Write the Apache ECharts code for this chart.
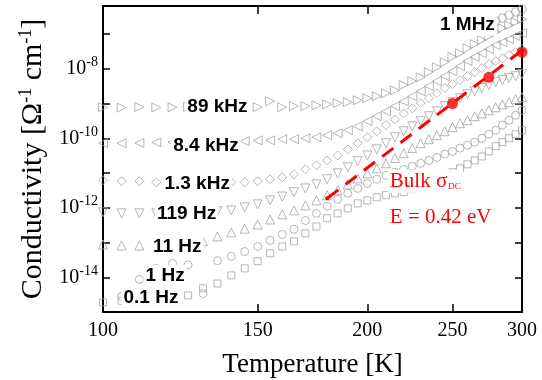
<!DOCTYPE html>
<html>
<head>
<meta charset="utf-8">
<script src="https://cdn.jsdelivr.net/npm/echarts@6/dist/echarts.min.js"></script>
<style>
  html, body { margin: 0; background: #fff; }
  #chart { width: 542px; height: 380px; }
</style>
</head>
<body>
<div id="chart"></div>
<script>
// temperature grid of the measurements [K]
const temps = [100, 105, 110, 115, 120, 125, 130, 135, 140, 145, 150, 155, 160, 165, 170, 175, 180, 185, 190, 195,
  200, 205, 210, 215, 220, 225, 230, 235, 240, 245, 250, 255, 260, 265, 270, 275, 280, 285, 290, 295, 300];

// conductivity [S/cm] per frequency
const s01Hz = [1.9e-15, 2.1e-15, 2.3e-15, 2.6e-15, 2.8e-15, 3.0e-15, 4.8e-15, 6.6e-15, 1.13e-14, 1.8e-14,
  2.9e-14, 4.9e-14, 7.7e-14, 1.08e-13, 1.83e-13, 2.9e-13, 5.0e-13, 6.9e-13, 9.6e-13, 1.34e-12,
  1.63e-12, 2.0e-12, 2.3e-12, 2.6e-12, 2.8e-12, 3.4e-12, 4.4e-12, 5.8e-12, 7.5e-12, 9.2e-12,
  1.05e-11, 1.36e-11, 1.78e-11, 2.3e-11, 3.0e-11, 4.2e-11, 5.9e-11, 7.7e-11, 1.0e-10, 1.30e-10, 1.70e-10];
const s1Hz = [null, 2.8e-15, 8.7e-15, 1.8e-14, 2.5e-14, 2.3e-14, 3.4e-15, 3.0e-14, 4.0e-14, 5.5e-14,
  7.7e-14, 1.15e-13, 1.71e-13, 2.4e-13, 4.3e-13, 6.9e-13, 1.10e-12, 1.75e-12, 2.6e-12, 3.6e-12,
  5.0e-12, 6.6e-12, 8.6e-12, 1.05e-11, 1.28e-11, 1.56e-11, 1.9e-11, 2.3e-11, 2.8e-11, 3.5e-11,
  4.2e-11, 5.2e-11, 6.3e-11, 7.7e-11, 1.0e-10, 1.30e-10, 1.70e-10, 2.4e-10, 3.3e-10, 4.6e-10, 6.4e-10];
const s11Hz = [8.8e-14, 8.2e-14, 8.2e-14, 8.2e-14, 8.2e-14, 8.8e-14, 1.08e-13, 1.50e-13, 1.95e-13, 2.5e-13,
  3.3e-13, 4.6e-13, 6.5e-13, 8.4e-13, 1.17e-12, 1.63e-12, 2.3e-12, 3.2e-12, 4.7e-12, 7.0e-12,
  9.8e-12, 1.36e-11, 1.9e-11, 2.7e-11, 3.7e-11, 5.2e-11, 7.2e-11, 9.4e-11, 1.22e-10, 1.59e-10,
  2.1e-10, 2.7e-10, 3.3e-10, 4.3e-10, 5.2e-10, 6.4e-10, 7.8e-10, 9.5e-10, 1.09e-9, 1.33e-9, 1.52e-9];
const s119Hz = [7.4e-13, 6.9e-13, 6.9e-13, 6.9e-13, 6.9e-13, 7.4e-13, 7.4e-13, 7.9e-13, 8.4e-13, 1.03e-12,
  1.25e-12, 1.63e-12, 2.1e-12, 2.8e-12, 3.6e-12, 4.7e-12, 6.6e-12, 9.8e-12, 1.46e-11, 2.2e-11,
  3.2e-11, 4.8e-11, 7.2e-11, 1.07e-10, 1.59e-10, 2.2e-10, 3.1e-10, 4.3e-10, 6.0e-10, 8.4e-10,
  1.09e-9, 1.42e-9, 1.85e-9, 2.26e-9, 2.8e-9, 3.4e-9, 4.1e-9, 4.7e-9, 5.4e-9, 6.1e-9, 7.0e-9];
const s1k3Hz = [6.2e-12, 5.8e-12, 5.8e-12, 5.4e-12, 5.4e-12, 5.4e-12, 5.4e-12, 5.4e-12, 5.4e-12, 5.4e-12,
  5.8e-12, 6.6e-12, 7.5e-12, 9.2e-12, 1.28e-11, 1.67e-11, 2.3e-11, 3.2e-11, 4.8e-11, 7.2e-11,
  1.07e-10, 1.59e-10, 2.4e-10, 3.5e-10, 5.2e-10, 7.3e-10, 1.02e-9, 1.42e-9, 1.98e-9, 2.8e-9,
  3.6e-9, 4.7e-9, 6.1e-9, 8.0e-9, 1.04e-8, 1.36e-8, 1.66e-8, 2.0e-8, 2.5e-8, 3.0e-8, 3.7e-8];
const s8k4Hz = [7.2e-11, 7.2e-11, 7.3e-11, 7.6e-11, 7.7e-11, 7.7e-11, 7.8e-11, 7.7e-11, 7.8e-11, 8.2e-11,
  8.7e-11, 8.7e-11, 9.4e-11, 9.4e-11, 1.0e-10, 1.07e-10, 1.22e-10, 1.39e-10, 1.70e-10, 2.2e-10,
  3.1e-10, 4.3e-10, 6.0e-10, 8.4e-10, 1.16e-9, 1.62e-9, 2.26e-9, 3.2e-9, 4.4e-9, 6.1e-9,
  8.5e-9, 1.19e-8, 1.66e-8, 2.2e-8, 2.8e-8, 3.7e-8, 4.8e-8, 5.8e-8, 7.1e-8, 8.7e-8, 1.06e-7];
const s89kHz = [7.8e-10, 7.6e-10, 7.9e-10, 7.7e-10, 7.8e-10, 8.0e-10, 7.8e-10, 7.7e-10, 7.9e-10, 8.0e-10,
  7.9e-10, 1.16e-9, 7.8e-10, 8.4e-10, 8.4e-10, 8.9e-10, 9.5e-10, 1.02e-9, 1.09e-9, 1.24e-9,
  1.42e-9, 1.62e-9, 1.98e-9, 2.4e-9, 3.4e-9, 4.4e-9, 5.7e-9, 8.0e-9, 1.11e-8, 1.55e-8,
  2.2e-8, 2.8e-8, 3.9e-8, 5.1e-8, 6.7e-8, 8.7e-8, 1.14e-7, 1.48e-7, 1.80e-7, 2.2e-7, 2.7e-7];
// 1 MHz only shows at the hot end
const t1MHz = [270, 275, 280, 285, 290, 295, 300];
const s1MHz = [1.58e-7, 1.93e-7, 2.36e-7, 2.9e-7, 3.5e-7, 4.3e-7, 5.2e-7];

// bulk dc conductivity points and the Arrhenius fit (E = 0.42 eV)
const dcT = [250, 275, 300];
const dcS = [1.0e-9, 5.7e-9, 3.0e-8];
const fitT = [180, 300];
const fitS = [1.87e-12, 3.37e-8];

// frequency labels: text, anchor temperature, anchor conductivity
const labelNames = ['1 MHz', '89 kHz', '8.4 kHz', '1.3 kHz', '119 Hz', '11 Hz', '1 Hz', '0.1 Hz'];
const labelT = [260, 135, 131, 128, 124.5, 121.5, 117.7, 113.4];
const labelS = [1.8e-7, 7.8e-10, 5.9e-11, 5.0e-12, 6.5e-13, 7.7e-14, 1.1e-14, 2.6e-15];

const noteNames = ['Bulk σ{sub|DC}', 'E = 0.42 eV'];
const noteT = [211, 211];
const noteS = [5.8e-12, 5.3e-13];

// axis ticks
const xTicks = [150, 200, 250];
const xLabels = [100, 150, 200, 250, 300];
const yTicks = [1e-14, 1e-13, 1e-12, 1e-11, 1e-10, 1e-9, 1e-8, 1e-7];
const yLabels = [1e-14, 1e-12, 1e-10, 1e-8];

const serif = 'Liberation Serif';
const sans = 'Liberation Sans';
const gray = '#a4a4a4';
const red = '#ff0000';
const hexagon = 'path://M5,0L15,0L20,8.66L15,17.32L5,17.32L0,8.66Z';

const chart = echarts.init(document.getElementById('chart'));

function markers(name, xs, ys, symbol, size, rotate) {
  const data = [];
  xs.forEach((t, i) => { if (ys[i] != null) data.push([t, ys[i]]); });
  return {
    name, type: 'scatter', data, symbol, symbolSize: size, symbolRotate: rotate || 0,
    itemStyle: { color: 'rgba(255,255,255,0)', borderColor: gray, borderWidth: 1 },
    silent: true, z: 2
  };
}

const frame = { show: true, onZero: false, lineStyle: { color: '#000', width: 2 } };
const xBase = { type: 'log', logBase: 10, min: 100, max: 300, splitLine: { show: false } };
const yBase = { type: 'log', logBase: 10, min: 1e-15, max: 6.4e-7, splitLine: { show: false } };
const tickLine = { color: '#000', width: 1.5 };

const option = {
  animation: false,
  grid: { left: 103, right: 20, top: 6, bottom: 68, outerBoundsMode: 'none' },
  xAxis: [
    {
      ...xBase, position: 'bottom', axisLine: frame,
      axisTick: { inside: true, length: 8, lineStyle: tickLine, customValues: xTicks },
      axisLabel: { customValues: xLabels, fontFamily: serif, fontSize: 20, color: '#000', margin: 9 },
      name: 'Temperature [K]', nameLocation: 'middle', nameGap: 39,
      nameTextStyle: { fontFamily: serif, fontSize: 27, color: '#000' }
    },
    {
      ...xBase, position: 'top', axisLine: frame,
      axisTick: { inside: true, length: 8, lineStyle: tickLine, customValues: xTicks },
      axisLabel: { show: false }
    }
  ],
  yAxis: [
    {
      ...yBase, position: 'left', axisLine: frame,
      axisTick: { inside: true, length: 7, lineStyle: tickLine, customValues: yTicks },
      axisLabel: {
        customValues: yLabels, fontFamily: serif, fontSize: 20, color: '#000', margin: 5,
        formatter: v => '10{s|' + Math.round(Math.log10(v)) + '}',
        rich: { s: { fontFamily: serif, fontSize: 14, color: '#000', padding: [0, 0, 12, 0] } }
      },
      name: 'Conductivity [Ω{s|-1} cm{s|-1}]', nameLocation: 'middle', nameGap: 52, nameRotate: 90,
      nameTextStyle: {
        fontFamily: serif, fontSize: 30, color: '#000',
        rich: { s: { fontFamily: serif, fontSize: 18, color: '#000', padding: [0, 0, 15, 0] } }
      }
    },
    {
      ...yBase, position: 'right', axisLine: frame,
      axisTick: { inside: true, length: 7, lineStyle: tickLine, customValues: yTicks },
      axisLabel: { show: false }
    }
  ],
  series: [
    markers('0.1 Hz', temps, s01Hz, 'rect', 7),
    markers('1 Hz', temps, s1Hz, 'circle', 8),
    markers('11 Hz', temps, s11Hz, 'triangle', 9),
    markers('119 Hz', temps, s119Hz, 'triangle', 9, 180),
    markers('1.3 kHz', temps, s1k3Hz, 'diamond', 9),
    markers('8.4 kHz', temps, s8k4Hz, 'triangle', 9, 90),
    markers('89 kHz', temps, s89kHz, 'triangle', 9, -90),
    markers('1 MHz', t1MHz, s1MHz, hexagon, [9, 8]),
    {
      name: 'fit', type: 'line', data: fitT.map((t, i) => [t, fitS[i]]),
      symbol: 'circle', symbolSize: 4, showSymbol: true,
      itemStyle: { color: red }, lineStyle: { color: red, width: 3, type: [14, 9] },
      silent: true, z: 3
    },
    {
      name: 'bulk dc', type: 'scatter', data: dcT.map((t, i) => [t, dcS[i]]),
      symbol: 'circle', symbolSize: 11, itemStyle: { color: red }, silent: true, z: 4
    },
    {
      name: 'labels', type: 'scatter', symbolSize: 0.1, silent: true, z: 6,
      itemStyle: { color: 'rgba(0,0,0,0)' },
      data: labelNames.map((n, i) => ({ value: [labelT[i], labelS[i]], name: n })),
      label: {
        show: true, position: 'inside', formatter: p => p.name, opacity: 1,
        fontFamily: sans, fontWeight: 'bold', fontSize: 19, color: '#000',
        textBorderWidth: 0, backgroundColor: '#fff', padding: [1, 2]
      }
    },
    {
      name: 'notes', type: 'scatter', symbolSize: 0.1, silent: true, z: 6,
      itemStyle: { color: 'rgba(0,0,0,0)' },
      data: noteNames.map((n, i) => ({ value: [noteT[i], noteS[i]], name: n })),
      label: {
        show: true, position: 'right', distance: 0, align: 'left', formatter: p => p.name, opacity: 1,
        fontFamily: serif, fontSize: 21, color: red, backgroundColor: '#fff', padding: [1, 2],
        rich: { sub: { fontFamily: serif, fontSize: 9, color: red, padding: [10, 0, 0, 1] } }
      }
    }
  ]
};

chart.setOption(option);
</script>
</body>
</html>
